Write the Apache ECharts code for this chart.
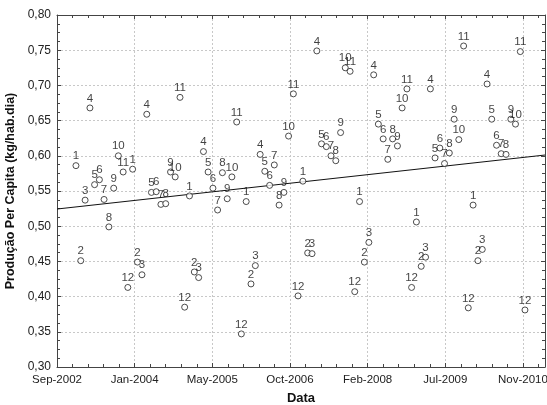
<!DOCTYPE html>
<html>
<head>
<meta charset="utf-8">
<script src="https://cdn.jsdelivr.net/npm/echarts@6/dist/echarts.min.js"></script>
<style>
html,body{margin:0;padding:0;background:#fff;}
#chart{width:547px;height:405px;}
</style>
</head>
<body>
<div id="chart"></div>
<script>
// Monthly per-capita production (kg/hab.dia), months 1..12 of each year
const years = [2003, 2004, 2005, 2006, 2007, 2008, 2009, 2010];
const monthLabels = [1, 2, 3, 4, 5, 6, 7, 8, 9, 10, 11, 12];
const v2003 = [0.586, 0.451, 0.537, 0.668, 0.559, 0.566, 0.538, 0.499, 0.554, 0.600, 0.577, 0.413];
const v2004 = [0.581, 0.449, 0.431, 0.659, 0.548, 0.549, 0.531, 0.532, 0.577, 0.570, 0.683, 0.385];
const v2005 = [0.543, 0.435, 0.427, 0.606, 0.577, 0.554, 0.523, 0.576, 0.539, 0.570, 0.648, 0.347];
const v2006 = [0.535, 0.418, 0.444, 0.602, 0.578, 0.558, 0.587, 0.530, 0.548, 0.628, 0.688, 0.401];
const v2007 = [0.564, 0.462, 0.461, 0.749, 0.617, 0.613, 0.600, 0.593, 0.633, 0.725, 0.720, 0.407];
const v2008 = [0.535, 0.449, 0.477, 0.715, 0.645, 0.624, 0.595, 0.624, 0.614, 0.668, 0.695, 0.413];
const v2009 = [0.506, 0.443, 0.456, 0.695, 0.597, 0.611, 0.589, 0.604, 0.652, 0.623, 0.756, 0.384];
const v2010 = [0.530, 0.451, 0.467, 0.702, 0.652, 0.615, 0.603, 0.602, 0.652, 0.645, 0.748, 0.381];
const yearValues = [v2003, v2004, v2005, v2006, v2007, v2008, v2009, v2010];

// Trend line (start / end dates and values)
const trendDates = ['2002-09-01', '2011-04-09'];
const trendValues = [0.5244, 0.6011];

// Axis range
const axisStart = '2002-09-01';
const axisEnd = '2011-04-09';
const yMin = 0.30, yMax = 0.80, yStep = 0.05;
const xStepDays = 500;

const DAY = 86400000;
const t0 = Date.parse(axisStart + 'T00:00:00Z');
const toDay = s => (Date.parse(s + 'T00:00:00Z') - t0) / DAY;
const xMax = toDay(axisEnd);
const monNames = ['Jan','Feb','Mar','Apr','May','Jun','Jul','Aug','Sep','Oct','Nov','Dec'];

const points = [];
years.forEach((y, yi) => {
  monthLabels.forEach((m, mi) => {
    const ds = y + '-' + String(m).padStart(2, '0') + '-01';
    points.push([toDay(ds), yearValues[yi][mi], m]);
  });
});
const trend = trendDates.map((d, i) => [toDay(d), trendValues[i]]);

const axisColor = '#444';
const font = 'Liberation Sans, Arial, sans-serif';

const xBase = {
  type: 'value', min: 0, max: xMax, interval: xStepDays,
  axisLine: { show: true, onZero: false, lineStyle: { color: axisColor, width: 1 } },
  axisTick: { show: true, inside: true, length: 4, lineStyle: { color: axisColor } },
  minorTick: { show: true, splitNumber: 5, length: 3, lineStyle: { color: axisColor } }
};
const yBase = {
  type: 'value', min: yMin, max: yMax, interval: yStep,
  axisLine: { show: true, onZero: false, lineStyle: { color: axisColor, width: 1 } },
  axisTick: { show: true, inside: true, length: 4, lineStyle: { color: axisColor } },
  minorTick: { show: true, splitNumber: 4, length: 3, lineStyle: { color: axisColor } }
};

const chart = echarts.init(document.getElementById('chart'), null, { renderer: 'canvas' });
chart.setOption({
  animation: false,
  backgroundColor: '#fff',
  grid: { left: 57, right: 2, top: 15, bottom: 38, containLabel: false, outerBoundsMode: 'none' },
  xAxis: [
    Object.assign({}, xBase, {
      position: 'bottom',
      name: 'Data', nameLocation: 'middle', nameGap: 25,
      nameTextStyle: { fontFamily: font, fontSize: 13, fontWeight: 'bold', color: '#111' },
      axisLabel: {
        show: true, margin: 7, fontFamily: font, fontSize: 11.5, color: '#222',
        showMaxLabel: false,
        formatter: v => {
          const d = new Date(t0 + v * DAY);
          return monNames[d.getUTCMonth()] + '-' + d.getUTCFullYear();
        }
      },
      splitLine: { show: true, lineStyle: { color: '#c8c8c8', type: [2, 2], width: 1 } }
    }),
    Object.assign({}, xBase, {
      position: 'top', axisLabel: { show: false }, splitLine: { show: false }
    })
  ],
  yAxis: [
    Object.assign({}, yBase, {
      position: 'left',
      name: 'Produção Per Capita (kg/hab.dia)', nameLocation: 'middle', nameGap: 33,
      nameTextStyle: { fontFamily: font, fontSize: 12.5, fontWeight: 'bold', color: '#111' },
      axisLabel: {
        show: true, margin: 6, fontFamily: font, fontSize: 12, color: '#222',
        formatter: v => v.toFixed(2).replace('.', ',')
      },
      splitLine: { show: true, lineStyle: { color: '#c8c8c8', type: [2, 2], width: 1 } }
    }),
    Object.assign({}, yBase, {
      position: 'right', axisLabel: { show: false }, splitLine: { show: false }
    })
  ],
  series: [
    {
      type: 'line', xAxisIndex: 0, yAxisIndex: 0, data: trend,
      showSymbol: false, symbol: 'none', silent: true, z: 2,
      lineStyle: { color: '#111', width: 1 }
    },
    {
      type: 'scatter', xAxisIndex: 0, yAxisIndex: 0, data: points, z: 3,
      symbol: 'circle', symbolSize: 6,
      itemStyle: { color: '#fff', borderColor: '#222', borderWidth: 1 },
      label: {
        show: true, position: 'top', distance: 0,
        fontFamily: font, fontSize: 11.5, color: '#111',
        formatter: p => String(p.data[2])
      },
      labelLayout: { hideOverlap: false }
    }
  ]
});
</script>
</body>
</html>
